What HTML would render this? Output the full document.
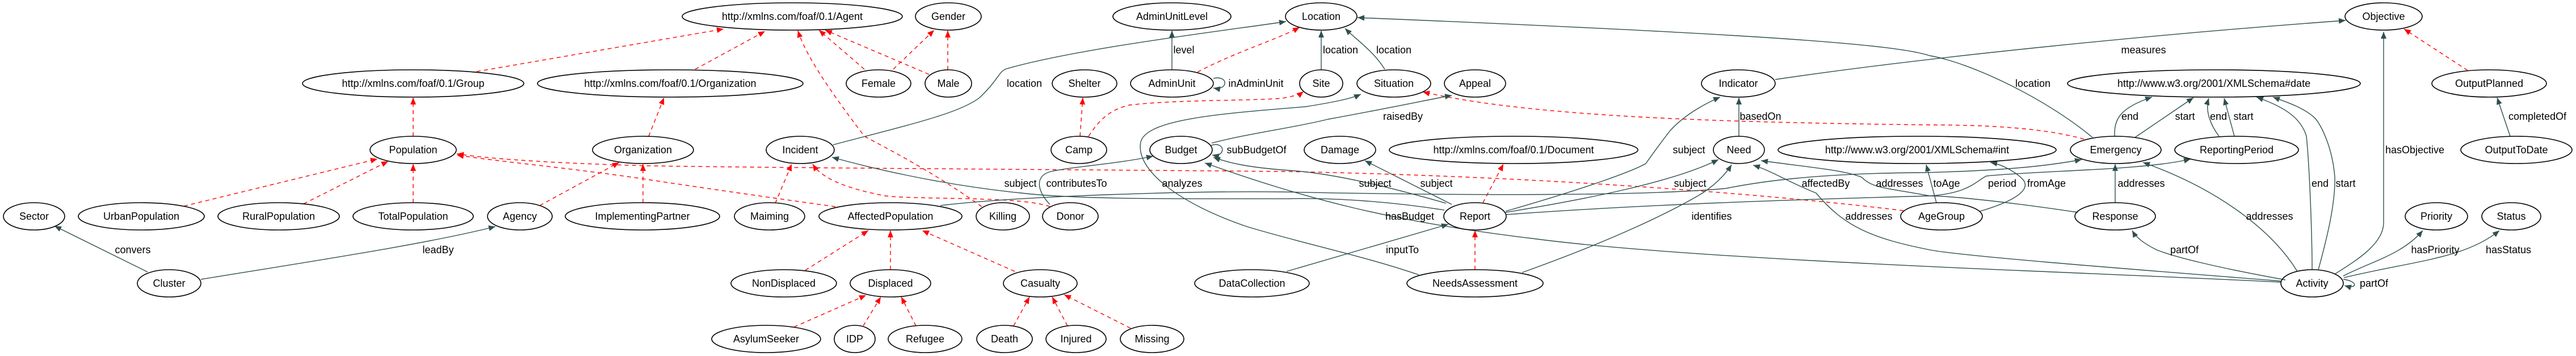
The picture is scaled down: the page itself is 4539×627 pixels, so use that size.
<!DOCTYPE html>
<html><head><meta charset="utf-8"><style>
html,body{margin:0;padding:0;background:#fff;}
svg{display:block;}
text{font-family:"Liberation Sans",Arial,sans-serif;font-size:18px;fill:#000;}
.n ellipse{fill:none;stroke:#000;stroke-width:1.6;}
.n text{text-anchor:middle;}
.s{fill:none;stroke:#2f4f4f;stroke-width:1.4;}
.r{fill:none;stroke:#ff0000;stroke-width:1.4;stroke-dasharray:7,6;}
.l{text-anchor:middle;}
</style></head><body>
<svg width="4539" height="627" viewBox="0 0 4539 627" xmlns="http://www.w3.org/2000/svg">
<defs>
<marker id="ad" markerUnits="userSpaceOnUse" markerWidth="14" markerHeight="12" refX="12" refY="5" orient="auto"><path d="M0,0 L12,5 L0,10 z" fill="#2f4f4f"/></marker>
<marker id="ar" markerUnits="userSpaceOnUse" markerWidth="14" markerHeight="12" refX="12" refY="5" orient="auto"><path d="M0,0 L12,5 L0,10 z" fill="#ff0000"/></marker>
</defs>

<g class="r" marker-end="url(#ar)">
<path d="M840,126 L1275,51"/>
<path d="M1225,122 L1348,55"/>
<path d="M1523,122 L1443,53"/>
<path d="M1637,131 L1454,53"/>
<path d="M1574,122 L1646,53"/>
<path d="M1670,123 L1670,54"/>
<path d="M1730,364 C1640,300 1560,260 1523,240 C1470,170 1420,100 1406,54"/>
<path d="M728,240 L728,172"/>
<path d="M324,363 L665,280"/>
<path d="M535,359 L684,284"/>
<path d="M728,357 L728,289"/>
<path d="M951,362 L1091,286"/>
<path d="M1133,357 L1133,289"/>
<path d="M1143,240 L1170,172"/>
<path d="M1472,364 C1300,340 1200,325 1140,316 C1000,295 880,285 805,273"/>
<path d="M3354,371 C3100,340 2700,310 2260,302 C1800,298 1400,296 1140,292 C1000,288 880,282 805,271"/>
<path d="M1366,358 L1395,289"/>
<path d="M1850,364 C1800,345 1620,352 1560,345 C1480,330 1445,310 1432,289"/>
<path d="M1903,240 L1908,172"/>
<path d="M1918,240 C1935,215 1950,195 1990,185 C2080,175 2200,178 2260,173 C2275,170 2288,168 2297,161"/>
<path d="M2110,127 C2180,90 2250,70 2290,48"/>
<path d="M3672,245 C3600,225 3500,220 3400,220 C3000,215 2700,205 2507,162"/>
<path d="M2599,475 L2599,406"/>
<path d="M2613,357 L2649,289"/>
<path d="M1419,476 L1530,406"/>
<path d="M1569,475 L1569,406"/>
<path d="M1788,478 L1625,406"/>
<path d="M1399,576 L1526,520"/>
<path d="M1521,574 L1552,523"/>
<path d="M1614,574 L1588,523"/>
<path d="M1786,574 L1814,523"/>
<path d="M1881,574 L1854,523"/>
<path d="M1992,578 L1875,519"/>
<path d="M4348,124 L4236,51"/>
</g>

<g class="s" marker-end="url(#ad)">
<path d="M260,479 L96,398"/>
<path d="M354,492 C550,460 750,430 873,399"/>
<path d="M1468,255 C1600,220 1690,200 1726,172 C1760,140 1760,125 1774,121 C1900,85 2150,55 2266,38"/>
<path d="M2065,123 L2065,54"/>
<path d="M2138,138 C2165,132 2165,160 2138,155"/>
<path d="M2328,123 L2328,54"/>
<path d="M2440,122 C2420,90 2390,70 2370,50"/>
<path d="M3687,242 C3600,170 3470,110 3400,98 C3340,78 3100,60 2392,31"/>
<path d="M3128,140 C3400,100 3800,60 4133,36"/>
<path d="M3064,240 L3064,172"/>
<path d="M2134,256 C2160,248 2160,278 2136,273"/>
<path d="M1850,360 C1830,340 1820,310 1852,302 C1900,292 1960,290 2032,275"/>
<path d="M2135,252 C2200,235 2280,225 2340,210 C2450,190 2520,175 2558,168"/>
<path d="M2500,484 C2400,450 2300,430 2200,400 C2080,360 2000,300 2010,250 C2020,210 2150,200 2300,188 C2350,180 2380,174 2398,166"/>
<path d="M2545,370 C2450,355 2350,348 2270,350 C2100,350 1900,352 1800,340 C1650,325 1520,292 1466,277"/>
<path d="M2558,360 L2405,283"/>
<path d="M2548,358 C2450,330 2350,305 2270,300 C2200,295 2165,287 2138,277"/>
<path d="M4019,497 C3700,480 3000,460 2700,420 C2450,390 2300,350 2123,287"/>
<path d="M2653,372 C2800,330 2880,300 2900,288 C2920,260 2935,240 2943,230 C2970,200 3010,180 3031,171"/>
<path d="M2653,374 C2800,350 2950,320 3028,281"/>
<path d="M2653,378 C2900,360 3150,352 3400,345 C3470,340 3480,320 3500,310 C3600,300 3780,300 3860,280"/>
<path d="M1657,362 C1800,345 2100,336 2260,338 C2600,345 2900,345 3040,332 C3100,320 3200,305 3390,304 C3550,300 3620,290 3668,281"/>
<path d="M2682,480 C2850,420 2950,370 3000,340 C3030,320 3045,300 3051,290"/>
<path d="M4019,495 C3700,470 3450,450 3400,440 C3300,420 3250,400 3200,340 C3150,320 3120,300 3089,291"/>
<path d="M3661,374 C3500,350 3420,345 3400,345 C3320,330 3300,332 3280,312 C3250,300 3200,296 3103,283"/>
<path d="M3412,357 L3394,290"/>
<path d="M3489,372 C3530,360 3580,340 3566,318 C3555,305 3530,290 3507,286"/>
<path d="M3727,357 L3727,289"/>
<path d="M3726,240 C3725,210 3735,190 3792,171"/>
<path d="M3762,242 L3865,172"/>
<path d="M3910,240 C3895,220 3885,195 3892,173"/>
<path d="M3937,240 L3919,173"/>
<path d="M4074,475 C4074,420 4070,300 4064,240 C4055,210 4030,190 3976,171"/>
<path d="M4085,475 C4100,420 4115,360 4114,312 C4110,260 4090,220 4079,208 C4060,190 4030,180 4005,171"/>
<path d="M4048,478 C4000,400 3900,330 3776,286"/>
<path d="M4115,482 C4150,460 4200,430 4200,392 L4200,56"/>
<path d="M4027,493 C3900,470 3830,452 3800,440 C3780,430 3765,420 3757,406"/>
<path d="M4129,486 C4180,460 4233,448 4269,406"/>
<path d="M4130,489 C4250,460 4343,456 4404,406"/>
<path d="M4129,492 C4155,495 4155,510 4131,503"/>
<path d="M4423,240 L4400,172"/>
<path d="M2267,478 L2552,395"/>
</g>

<g class="l">
<text x="234" y="446">convers</text>
<text x="772" y="446">leadBy</text>
<text x="1805" y="153">location</text>
<text x="2086" y="94">level</text>
<text x="2213" y="153">inAdminUnit</text>
<text x="2362" y="94">location</text>
<text x="2456" y="94">location</text>
<text x="3582" y="153">location</text>
<text x="3777" y="94">measures</text>
<text x="3102" y="211">basedOn</text>
<text x="2214" y="270">subBudgetOf</text>
<text x="1897" y="329">contributesTo</text>
<text x="2472" y="211">raisedBy</text>
<text x="2083" y="329">analyzes</text>
<text x="1798" y="329">subject</text>
<text x="2531" y="329">subject</text>
<text x="2423" y="329">subject</text>
<text x="2484" y="387">hasBudget</text>
<text x="2976" y="270">subject</text>
<text x="2978" y="329">subject</text>
<text x="3217" y="329">affectedBy</text>
<text x="3347" y="329">addresses</text>
<text x="3016" y="387">identifies</text>
<text x="3293" y="387">addresses</text>
<text x="3430" y="329">toAge</text>
<text x="3528" y="329">period</text>
<text x="3606" y="329">fromAge</text>
<text x="3773" y="329">addresses</text>
<text x="3753" y="211">end</text>
<text x="3850" y="211">start</text>
<text x="3909" y="211">end</text>
<text x="3953" y="211">start</text>
<text x="4088" y="329">end</text>
<text x="4133" y="329">start</text>
<text x="3999" y="387">addresses</text>
<text x="4255" y="270">hasObjective</text>
<text x="3849" y="446">partOf</text>
<text x="4291" y="446">hasPriority</text>
<text x="4420" y="446">hasStatus</text>
<text x="4183" y="505">partOf</text>
<text x="4471" y="211">completedOf</text>
<text x="2471" y="446">inputTo</text>
</g>

<g class="n">
<ellipse cx="1396" cy="29" rx="194" ry="24"/><text x="1396" y="35">http://xmlns.com/foaf/0.1/Agent</text>
<ellipse cx="1671" cy="29" rx="58" ry="24"/><text x="1671" y="35">Gender</text>
<ellipse cx="2065" cy="29" rx="104" ry="24"/><text x="2065" y="35">AdminUnitLevel</text>
<ellipse cx="2328" cy="29" rx="63" ry="24"/><text x="2328" y="35">Location</text>
<ellipse cx="4200" cy="29" rx="68" ry="24"/><text x="4200" y="35">Objective</text>

<ellipse cx="728" cy="147" rx="195" ry="24"/><text x="728" y="153">http://xmlns.com/foaf/0.1/Group</text>
<ellipse cx="1181" cy="147" rx="234" ry="24"/><text x="1181" y="153">http://xmlns.com/foaf/0.1/Organization</text>
<ellipse cx="1548" cy="147" rx="57" ry="24"/><text x="1548" y="153">Female</text>
<ellipse cx="1671" cy="147" rx="41" ry="24"/><text x="1671" y="153">Male</text>
<ellipse cx="1911" cy="147" rx="57" ry="24"/><text x="1911" y="153">Shelter</text>
<ellipse cx="2065" cy="147" rx="73" ry="24"/><text x="2065" y="153">AdminUnit</text>
<ellipse cx="2328" cy="147" rx="38" ry="24"/><text x="2328" y="153">Site</text>
<ellipse cx="2456" cy="147" rx="65" ry="24"/><text x="2456" y="153">Situation</text>
<ellipse cx="2599" cy="147" rx="54" ry="24"/><text x="2599" y="153">Appeal</text>
<ellipse cx="3063" cy="147" rx="65" ry="24"/><text x="3063" y="153">Indicator</text>
<ellipse cx="3901" cy="147" rx="258" ry="24"/><text x="3901" y="153">http://www.w3.org/2001/XMLSchema#date</text>
<ellipse cx="4386" cy="147" rx="101" ry="24"/><text x="4386" y="153">OutputPlanned</text>

<ellipse cx="728" cy="264" rx="76" ry="24"/><text x="728" y="270">Population</text>
<ellipse cx="1133" cy="264" rx="89" ry="24"/><text x="1133" y="270">Organization</text>
<ellipse cx="1410" cy="264" rx="60" ry="24"/><text x="1410" y="270">Incident</text>
<ellipse cx="1901" cy="264" rx="49" ry="24"/><text x="1901" y="270">Camp</text>
<ellipse cx="2081" cy="264" rx="55" ry="24"/><text x="2081" y="270">Budget</text>
<ellipse cx="2361" cy="264" rx="63" ry="24"/><text x="2361" y="270">Damage</text>
<ellipse cx="2667" cy="264" rx="219" ry="24"/><text x="2667" y="270">http://xmlns.com/foaf/0.1/Document</text>
<ellipse cx="3064" cy="264" rx="45" ry="24"/><text x="3064" y="270">Need</text>
<ellipse cx="3378" cy="264" rx="245" ry="24"/><text x="3378" y="270">http://www.w3.org/2001/XMLSchema#int</text>
<ellipse cx="3728" cy="264" rx="80" ry="24"/><text x="3728" y="270">Emergency</text>
<ellipse cx="3941" cy="264" rx="109" ry="24"/><text x="3941" y="270">ReportingPeriod</text>
<ellipse cx="4434" cy="264" rx="98" ry="24"/><text x="4434" y="270">OutputToDate</text>

<ellipse cx="60" cy="381" rx="54" ry="24"/><text x="60" y="387">Sector</text>
<ellipse cx="249" cy="381" rx="111" ry="24"/><text x="249" y="387">UrbanPopulation</text>
<ellipse cx="491" cy="381" rx="107" ry="24"/><text x="491" y="387">RuralPopulation</text>
<ellipse cx="728" cy="381" rx="106" ry="24"/><text x="728" y="387">TotalPopulation</text>
<ellipse cx="916" cy="381" rx="57" ry="24"/><text x="916" y="387">Agency</text>
<ellipse cx="1132" cy="381" rx="136" ry="24"/><text x="1132" y="387">ImplementingPartner</text>
<ellipse cx="1356" cy="381" rx="62" ry="24"/><text x="1356" y="387">Maiming</text>
<ellipse cx="1569" cy="381" rx="126" ry="24"/><text x="1569" y="387">AffectedPopulation</text>
<ellipse cx="1767" cy="381" rx="47" ry="24"/><text x="1767" y="387">Killing</text>
<ellipse cx="1886" cy="381" rx="49" ry="24"/><text x="1886" y="387">Donor</text>
<ellipse cx="2599" cy="381" rx="55" ry="24"/><text x="2599" y="387">Report</text>
<ellipse cx="3421" cy="381" rx="72" ry="24"/><text x="3421" y="387">AgeGroup</text>
<ellipse cx="3727" cy="381" rx="71" ry="24"/><text x="3727" y="387">Response</text>
<ellipse cx="4293" cy="381" rx="55" ry="24"/><text x="4293" y="387">Priority</text>
<ellipse cx="4425" cy="381" rx="52" ry="24"/><text x="4425" y="387">Status</text>

<ellipse cx="298" cy="499" rx="56" ry="24"/><text x="298" y="505">Cluster</text>
<ellipse cx="1381" cy="499" rx="93" ry="24"/><text x="1381" y="505">NonDisplaced</text>
<ellipse cx="1569" cy="499" rx="71" ry="24"/><text x="1569" y="505">Displaced</text>
<ellipse cx="1833" cy="499" rx="65" ry="24"/><text x="1833" y="505">Casualty</text>
<ellipse cx="2206" cy="499" rx="101" ry="24"/><text x="2206" y="505">DataCollection</text>
<ellipse cx="2599" cy="499" rx="120" ry="24"/><text x="2599" y="505">NeedsAssessment</text>
<ellipse cx="4074" cy="499" rx="55" ry="24"/><text x="4074" y="505">Activity</text>

<ellipse cx="1350" cy="597" rx="96" ry="24"/><text x="1350" y="603">AsylumSeeker</text>
<ellipse cx="1506" cy="597" rx="36" ry="24"/><text x="1506" y="603">IDP</text>
<ellipse cx="1630" cy="597" rx="65" ry="24"/><text x="1630" y="603">Refugee</text>
<ellipse cx="1770" cy="597" rx="49" ry="24"/><text x="1770" y="603">Death</text>
<ellipse cx="1896" cy="597" rx="53" ry="24"/><text x="1896" y="603">Injured</text>
<ellipse cx="2030" cy="597" rx="56" ry="24"/><text x="2030" y="603">Missing</text>
</g>
</svg>
</body></html>
